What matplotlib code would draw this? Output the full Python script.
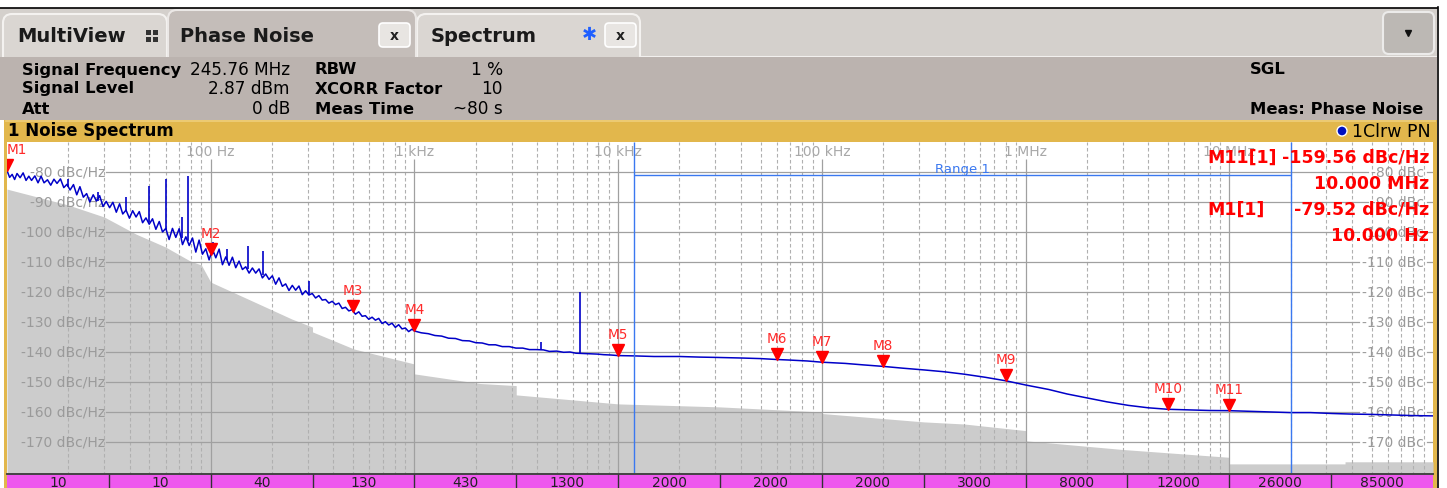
import numpy as np
import matplotlib
matplotlib.use("Agg")
import matplotlib.pyplot as plt
from matplotlib.patches import Rectangle, FancyBboxPatch, Circle
from matplotlib.transforms import offset_copy, blended_transform_factory

plt.rcParams['font.family'] = ['DejaVu Sans']
W, H = 1447, 489

# ---- values ----
# phase noise trace, 10 Hz .. 1 kHz (noisy part)
low_freq = [10.0, 10.3, 10.6, 10.9, 11.2, 11.6, 12.0, 12.4, 12.8, 13.2,
            13.7, 14.2, 14.7, 15.2, 15.8, 16.4, 17.0, 17.6, 18.3, 19.0,
            19.7, 20.4, 21.2, 22.0, 22.8, 23.7, 24.6, 25.5, 26.5, 27.5,
            28.5, 29.6, 30.7, 31.9, 33.1, 34.4, 35.7, 37.0, 38.4, 39.9,
            41.4, 43.0, 44.6, 46.3, 48.1, 49.9, 51.8, 53.8, 55.9, 58.0,
            60.2, 62.5, 64.9, 67.4, 70.0, 72.7, 75.5, 78.4, 81.4, 84.5,
            87.7, 91.1, 94.6, 98.2, 102.0, 105.9, 110.0, 114.2, 118.6, 123.1,
            127.8, 132.7, 137.8, 143.1, 148.6, 154.3, 160.2, 166.3, 172.7, 179.3,
            186.2, 193.3, 200.7, 208.4, 216.4, 224.7, 233.3, 242.2, 251.5, 261.1,
            271.1, 281.5, 292.3, 303.5, 315.1, 327.2, 339.7, 352.7, 366.2, 380.2,
            394.8, 409.9, 425.6, 441.9, 458.8, 476.4, 494.6, 513.5, 533.2, 553.6,
            574.8, 596.8, 619.7, 643.4, 668.0, 693.6, 720.2, 747.8, 776.4, 806.1,
            837.0, 869.0, 902.3, 936.9, 972.8]
low_dbc = [-79.5, -81.8, -80.8, -82.5, -80.5, -81.9, -80.3, -82.8, -81.4, -82.8,
           -81.3, -83.6, -81.4, -83.6, -82.6, -84.4, -82.4, -83.8, -82.3, -85.2,
           -84.1, -86.0, -84.2, -87.6, -84.9, -88.4, -87.2, -90.0, -87.6, -89.7,
           -87.9, -91.5, -89.8, -91.9, -90.1, -93.4, -90.6, -94.0, -92.7, -95.4,
           -92.9, -95.0, -93.2, -96.9, -95.3, -97.4, -95.6, -99.1, -96.5, -100.0,
           -98.8, -102.5, -98.8, -101.8, -98.9, -104.2, -101.6, -104.5, -102.0, -106.7,
           -102.7, -107.4, -105.6, -109.3, -105.7, -108.6, -105.7, -110.9, -108.3, -111.1,
           -108.4, -111.9, -109.7, -112.5, -111.6, -113.7, -112.0, -113.7, -112.3, -115.3,
           -114.0, -115.8, -114.6, -117.4, -115.3, -118.1, -117.3, -119.5, -117.8, -119.4,
           -118.0, -120.9, -119.6, -121.0, -120.5, -122.0, -121.2, -122.7, -122.5, -123.7,
           -123.1, -124.2, -123.7, -125.5, -125.1, -126.3, -125.9, -127.4, -126.6, -128.1,
           -127.9, -129.1, -128.4, -129.4, -128.8, -130.5, -129.9, -131.0, -130.4, -131.8,
           -130.9, -132.3, -132.0, -133.2, -132.4]
# phase noise trace, 1 kHz .. 100 MHz
hi_freq = [1000, 1080, 1170, 1260, 1360, 1470, 1590, 1720, 1860, 2000,
           2150, 2320, 2500, 2700, 2920, 3150, 3400, 3670, 3950, 4300,
           4600, 5000, 5400, 5800, 6200, 6800, 7300, 7900, 8500, 9200,
           1e4, 1.2e4, 1.5e4, 2e4, 2.5e4, 3e4, 4e4, 5e4, 6e4, 7e4,
           8.5e4, 1e5, 1.3e5, 1.6e5, 2e5, 2.5e5, 3.2e5, 4e5, 5e5, 6.3e5,
           8e5, 1e6, 1.3e6, 1.6e6, 2e6, 2.5e6, 3.2e6, 4e6, 5e6, 6.3e6,
           8e6, 1e7, 1.3e7, 1.6e7, 2e7, 2.5e7, 3.2e7, 4e7, 5e7, 6.3e7,
           8e7, 1e8]
hi_dbc = [-133.0, -133.6, -133.9, -134.5, -134.7, -135.4, -135.5, -136.2, -136.3, -136.9,
          -137.0, -137.6, -137.6, -138.2, -138.2, -138.7, -138.7, -139.2, -139.2, -139.3,
          -139.8, -139.7, -140.1, -140.0, -140.4, -140.5, -140.6, -140.7, -140.9, -141.0,
          -141.2, -141.3, -141.5, -141.5, -141.7, -141.8, -142.0, -142.2, -142.5, -142.7,
          -143.0, -143.4, -143.8, -144.3, -144.8, -145.4, -146.0, -146.6, -147.4, -148.4,
          -149.6, -151.0, -152.5, -154.0, -155.3, -156.6, -157.8, -158.6, -159.1, -159.3,
          -159.5, -159.56, -159.8, -160.0, -160.2, -160.2, -160.5, -160.7, -160.8, -161.0,
          -161.2, -161.3]
# spurs: frequency, peak and trace level under the peak
spur_freq = [20, 28, 38.4, 49.5, 60, 72, 77.4, 102.6, 120, 153, 181, 305, 4200, 6500]
spur_peak = [-82.5, -86.7, -88.4, -84.6, -82.3, -95.0, -81.3, -103.3, -105.8, -104.8, -106.2, -116.2, -136.7, -120.0]
spur_base = [-85.1, -89.7, -93.1, -96.6, -99.3, -102.0, -103.1, -107.4, -109.4, -112.3, -114.3, -120.6, -139.3, -140.4]
# grey area (noise floor)
floor_freq = [10, 20, 30, 43, 60, 79, 90, 100, 160, 250,
              316, 316, 505, 1000, 1000, 2100, 3160, 3160, 1e4, 3.16e4,
              1e5, 1e5, 3.16e5, 5e5, 1e6, 1e6, 3e6, 1e7, 1e7, 3.7e7,
              3.7e7, 1e8]
floor_dbc = [-85.7, -91.0, -95.0, -100.7, -105.0, -109.6, -111.0, -116.7, -123.0, -129.0,
             -131.7, -133.3, -139.0, -144.0, -147.3, -150.5, -151.2, -154.3, -157.3, -158.3,
             -160.0, -160.5, -163.3, -164.0, -166.2, -169.6, -172.5, -175.1, -177.3, -177.3,
             -176.6, -176.6]
marker_names = ["M1", "M2", "M3", "M4", "M5", "M6", "M7", "M8", "M9", "M10", "M11"]
marker_freq = [10, 100, 500, 1e3, 1e4, 6e4, 1e5, 2e5, 8e5, 5e6, 1e7]
marker_dbc = [-79.52, -107.5, -126.6, -133.0, -141.2, -142.6, -143.4, -144.8, -149.6, -159.1, -159.56]
range_start, range_stop, range_level = 12e3, 20e6, -81
y_levels = [-80, -90, -100, -110, -120, -130, -140, -150, -160, -170]
decade_freq = [100, 1e3, 1e4, 1e5, 1e6, 1e7]
decade_text = ["100 Hz", "1 kHz", "10 kHz", "100 kHz", "1 MHz", "10 MHz"]
seg_edges = [10, 31.6, 100, 316, 1e3, 3.16e3, 1e4, 3.16e4, 1e5, 3.16e5, 1e6, 3.16e6, 1e7, 3.16e7, 1e8]
seg_labels = ["10", "10", "40", "130", "430", "1300", "2000", "2000", "2000", "3000",
              "8000", "12000", "26000", "85000"]

fig = plt.figure(figsize=(W / 100, H / 100), dpi=100)

# ---- background / instrument frame in pixel coordinates ----
bg = fig.add_axes([0, 0, 1, 1])
bg.set_xlim(0, W); bg.set_ylim(H, 0); bg.axis('off')

def box(x, y, w, h, fc, ec='none', lw=0, r=0, z=1):
    if r:
        p = FancyBboxPatch((x, y), w, h, boxstyle=f"round,pad=0,rounding_size={r}",
                           fc=fc, ec=ec, lw=lw, zorder=z)
    else:
        p = Rectangle((x, y), w, h, fc=fc, ec=ec, lw=lw, zorder=z)
    bg.add_patch(p)

box(0, 9, 1437, 49, '#d4d0cc')
box(3, 15, 164, 52, '#dad6d2', ec='#f4f2f0', lw=1.5, r=9, z=2)
box(417, 15, 223, 52, '#dad6d2', ec='#f4f2f0', lw=1.5, r=9, z=2)
box(168, 11, 248, 56, '#c4bdb9', ec='#ebe8e6', lw=1.5, r=9, z=2)
bg.plot([640, 1437], [57.5, 57.5], color='#f2f0ee', lw=1.5, zorder=2)
box(0, 58, 1437, 63, '#bbb3af', z=3)
box(1383, 13, 51, 42, '#bcb8b4', ec='#ecebea', lw=1.5, r=6, z=3)
bg.plot([1408], [34], 'v', color='#111111', ms=4, zorder=4)
bg.plot([0, 1437], [8.5, 8.5], color='black', lw=1.2, zorder=4)
bg.plot([1437.5, 1437.5], [8, H], color='black', lw=1.2, zorder=4)
for bx, by in [(146, 31), (153, 31), (146, 38), (153, 38)]:
    box(bx, by, 5, 5, '#333333', z=4)
for bx in [379, 605]:
    box(bx, 24, 31, 24, '#e8e5e2', ec='#ffffff', lw=1.2, r=4, z=4)
    bg.text(bx + 15.5, 36, "x", ha='center', va='center', fontsize=10, weight='bold',
            color='#222222', zorder=5)
bg.text(589, 35, "\u2731", ha='center', va='center', fontsize=13, color='#1f5fff', zorder=5)
for tx, tt in [(17, "MultiView"), (180, "Phase Noise"), (431, "Spectrum")]:
    bg.text(tx, 37, tt, ha='left', va='center', fontsize=14, weight='bold', color='#1a1a1a', zorder=5)

info_rows = [("Signal Frequency", "245.76 MHz", "RBW", "1 %"),
             ("Signal Level", "2.87 dBm", "XCORR Factor", "10"),
             ("Att", "0 dB", "Meas Time", "~80 s")]
for (l1, v1, l2, v2), ty in zip(info_rows, [70, 89, 109]):
    bg.text(22, ty, l1, ha='left', va='center', fontsize=11.8, weight='bold', zorder=5)
    bg.text(290, ty, v1, ha='right', va='center', fontsize=12.2, zorder=5)
    bg.text(315, ty, l2, ha='left', va='center', fontsize=11.8, weight='bold', zorder=5)
    bg.text(503, ty, v2, ha='right', va='center', fontsize=12.2, zorder=5)
bg.text(1250, 70, "SGL", ha='left', va='center', fontsize=11.8, weight='bold', zorder=5)
bg.text(1250, 109, "Meas: Phase Noise", ha='left', va='center', fontsize=11.8, weight='bold', zorder=5)

box(4, 121, 1433, 22, '#e2b74c', z=3)
bg.plot([6, 1435], [122, 122], color='#efcf7a', lw=1.2, zorder=4)
box(4, 121, 3, 368, '#e2b74c', z=3)
box(1433, 121, 4, 368, '#e2b74c', z=3)
bg.text(8, 131, "1 Noise Spectrum", ha='left', va='center', fontsize=12, weight='bold', zorder=5)
bg.text(1431, 132, "1Clrw PN", ha='right', va='center', fontsize=12.5, zorder=5)
bg.add_patch(Circle((1342, 132), 5, fc='#0010c0', ec='white', lw=1, zorder=5))

# ---- measurement diagram ----
ax = fig.add_axes([7 / W, 14 / H, 1426 / W, 332 / H])
ax.set_xscale('log')
ax.set_xlim(10, 1e8)
ax.set_ylim(-180.67, -70)
ax.set_facecolor('white')
ax.tick_params(which='both', length=0, labelbottom=False, labelleft=False)
for s in ax.spines.values():
    s.set_visible(False)

ax.fill_between(floor_freq, floor_dbc, -190, color='#cccccc', lw=0, zorder=1)

for e in range(1, 8):
    d = 10.0 ** e
    if e > 1:
        ax.vlines(d, -181, -75.7, color='#a0a0a0', lw=0.9, zorder=2)
    for k in range(2, 10):
        ax.vlines(k * d, -181, -70, color='#b0b0b0', lw=0.8, linestyles=(0, (3.2, 2.2)), zorder=2)

ytr = blended_transform_factory(ax.transAxes, ax.transData)
lab_style = dict(fontsize=10, color='#9a9a9a', va='center', transform=ytr, zorder=2.5)
left_txt = [ax.text(0.0687, lv, f"{lv} dBc/Hz", ha='right', **lab_style) for lv in y_levels]
right_txt = [ax.text(0.9935, lv, f"{lv} dBc", ha='right', **lab_style) for lv in y_levels]
for f, t in zip(decade_freq, decade_text):
    ax.text(f, -73, t, ha='center', va='center', fontsize=10, color='#a8a8a8', zorder=2.5)

fig.canvas.draw()
inv = ax.transAxes.inverted()
for lv, lt, rt in zip(y_levels, left_txt, right_txt):
    lb = lt.get_window_extent().transformed(inv)
    rb = rt.get_window_extent().transformed(inv)
    ax.plot([lb.x1 + 0.001, rb.x0 - 0.002], [lv, lv], color='#a0a0a0', lw=0.9, transform=ytr, zorder=2)
    ax.plot([rb.x1 + 0.002, 1], [lv, lv], color='#a0a0a0', lw=0.9, transform=ytr, zorder=2)

ax.plot(low_freq + hi_freq, low_dbc + hi_dbc, color='#0000c8', lw=1.1, zorder=3)
ax.vlines(spur_freq, spur_base, spur_peak, color='#0000c8', lw=1.2, zorder=3)

rc = '#3a78f0'
ax.vlines([range_start, range_stop], -181, -70, color=rc, lw=1.0, zorder=4)
ax.hlines(range_level, range_start, range_stop, color=rc, lw=1.0, zorder=4)
ax.text(np.sqrt(range_start * range_stop), range_level + 2.3, "Range 1", ha='center', va='center',
        fontsize=9.5, color=rc, zorder=4)

tri = offset_copy(ax.transData, fig=fig, y=4, units='points')
lab = offset_copy(ax.transData, fig=fig, y=15.5, units='points')
ax.plot(marker_freq, marker_dbc, 'v', color='#ff0000', ms=8, transform=tri, zorder=6)
for i, (n, f, v) in enumerate(zip(marker_names, marker_freq, marker_dbc)):
    ax.text(f, v, n, transform=lab, ha='left' if i == 0 else 'center', va='center',
            fontsize=9.8, color='#ff2a2a', zorder=6)

# marker readout
red = dict(transform=bg.transData, va='center', fontsize=12.5, weight='bold', color='#ff0000')
fig.text(1207, 158, "M11[1]", ha='left', **red)
fig.text(1429, 158, f"{marker_dbc[10]:.2f} dBc/Hz", ha='right', **red)
fig.text(1429, 184, "10.000 MHz", ha='right', **red)
fig.text(1207, 210, "M1[1]", ha='left', **red)
fig.text(1429, 210, f"{marker_dbc[0]:.2f} dBc/Hz", ha='right', **red)
fig.text(1429, 236, "10.000 Hz", ha='right', **red)

# ---- averaging bar ----
bar = fig.add_axes([7 / W, -6 / H, 1426 / W, 20 / H])
bar.set_xscale('log')
bar.set_xlim(10, 1e8)
bar.set_ylim(0, 1)
bar.set_facecolor('#ee58ee')
bar.tick_params(which='both', length=0, labelbottom=False, labelleft=False)
for s in bar.spines.values():
    s.set_visible(False)
bar.axhline(1, color='#444444', lw=1.4, clip_on=False)
bar.vlines(seg_edges[1:-1], 0, 1, color='#333333', lw=1.0)
for a, b, t in zip(seg_edges[:-1], seg_edges[1:], seg_labels):
    bar.text(np.sqrt(a * b), 0.6, t, ha='center', va='center', fontsize=10, color='#222222')

fig.savefig("out.png", dpi=100)
